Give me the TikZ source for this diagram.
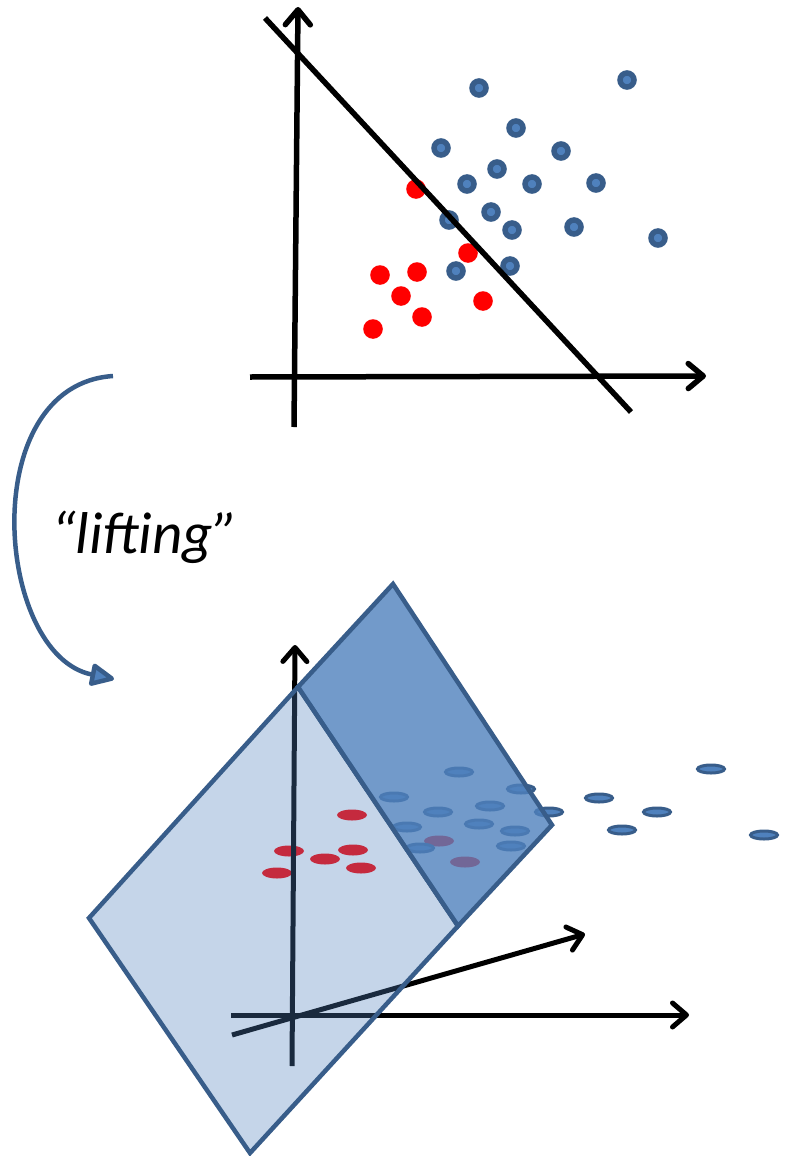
\documentclass[tikz,border=0pt]{standalone}
\usepackage{fontspec}
\setmainfont{Carlito}
\usetikzlibrary{arrows.meta}
\definecolor{accent}{HTML}{4F81BD}
\definecolor{accentdark}{HTML}{385D8A}
\definecolor{ptred}{HTML}{FF0000}
\begin{document}
\begin{tikzpicture}[x=1pt,y=-1pt,
  axisline/.style={line width=5.5pt,draw=black,-{Straight Barb[length=15pt,width=25pt,line cap=round,line join=round]}},
  axisthin/.style={line width=5pt,draw=black,-{Straight Barb[length=14pt,width=24pt,line cap=round,line join=round]}},
  bluedot/.style={fill=accent,draw=accentdark,line width=5.5pt},
  reddot/.style={fill=ptred},
  blueell/.style={fill=accent,draw=accentdark,line width=3pt},
  redell/.style={fill=ptred},
  plane/.style={draw=accentdark,line width=4.5pt,line join=miter,fill=accent},
  liftarrow/.style={draw=accentdark,line width=4.5pt,-{Triangle[length=27pt,width=24pt,fill=accent,line join=round]}}
]
\useasboundingbox (0,0) rectangle (790,1156);

% ---------- top plot ----------
\coordinate (yb) at (294,427);
\coordinate (yt) at (298,7);
\coordinate (xl) at (250,377);
\coordinate (xr) at (706,376);
\draw[axisline] (yb) -- (yt);
\draw[axisline] (xl) -- (xr);

\foreach \p in {(479,88),(627,80),(516,128),(441,148),(561,151),(497,169),(467,184),(532,184),(596,183),(449,220),(491,212),(512,230),(574,227),(658,238),(510,266),(456,271)}
  \draw[bluedot] \p circle[radius=7];
\foreach \p in {(416,189),(468,253),(380,275),(417,272),(401,296),(483,301),(422,317),(373,329)}
  \fill[reddot] \p circle[radius=9.8];

\coordinate (s1) at (265,18);
\coordinate (s2) at (631,412);
\draw[line width=5.5pt] (s1) -- (s2);

% ---------- lifting arrow ----------
\coordinate (la) at (113,376);
\coordinate (lb) at (114,679);
\draw[liftarrow] (la) .. controls (-25,385) and (-5,655) .. (lb);
\node[font=\itshape\fontsize{59}{63}\selectfont,anchor=base west,inner sep=0pt] (lift) at (51,553) {“lifting”};

% ---------- bottom plot ----------
\foreach \p in {(352,815),(289,851),(353,850),(325,859),(277,873),(361,868),(439,841),(465,862)}
  \fill[redell] \p ellipse[x radius=15,y radius=5.5];
\foreach \p in {(459,772),(521,789),(394,797),(490,806),(438,812),(549,812),(407,827),(479,824),(515,831),(420,848),(511,846),(599,798),(711,769),(657,812),(622,830),(764,835)}
  \draw[blueell] \p ellipse[x radius=13.5,y radius=4];

\coordinate (vb) at (292,1066);
\coordinate (vt) at (295,645);
\coordinate (hl) at (231,1015);
\coordinate (hr) at (689,1015);
\coordinate (ol) at (232,1035);
\coordinate (or) at (585,934);
\draw[axisthin] (vb) -- (vt);
\draw[axisthin] (hl) -- (hr);
\draw[axisthin] (ol) -- (or);

\coordinate (pt) at (298,687);
\coordinate (pl) at (89,918);
\coordinate (pb) at (250,1153);
\coordinate (pr) at (458,926);
\coordinate (dt) at (393,584);
\coordinate (dr) at (552,825);
\draw[plane,fill opacity=0.33] (pt) -- (pl) -- (pb) -- (pr) -- cycle;
\draw[plane,fill opacity=0.8] (pt) -- (dt) -- (dr) -- (pr) -- cycle;
\end{tikzpicture}
\end{document}
